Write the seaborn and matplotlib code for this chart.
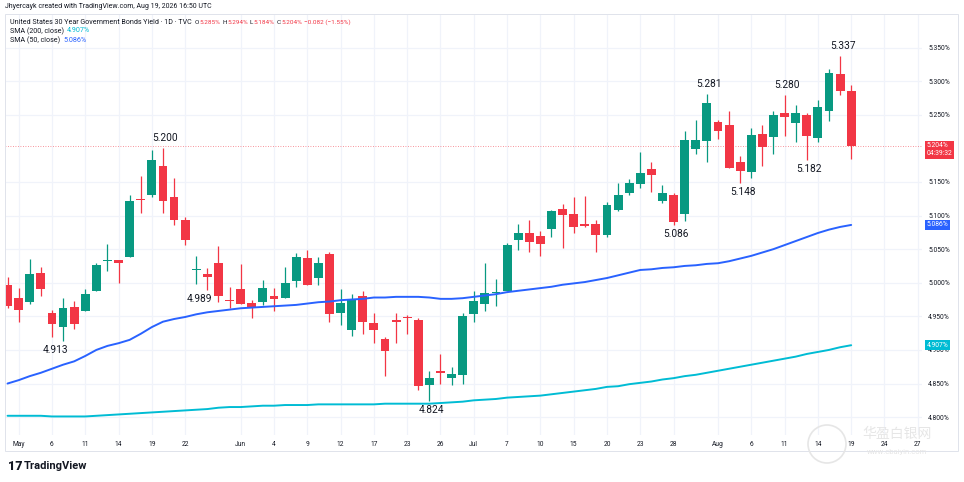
import numpy as np
import pandas as pd
import matplotlib
matplotlib.use('Agg')
import matplotlib.pyplot as plt
import seaborn as sns
from matplotlib.patches import Rectangle, Ellipse

# DADOS DO GRAFICO
tick_pos = [1, 4, 7, 10, 13, 16, 21, 24, 27, 30, 33, 36, 39, 42, 45, 48, 51, 54,
            57, 60, 64, 67, 70, 73, 76, 79, 82]
tick_labels = ['May', '6', '11', '14', '19', '22', 'Jun', '4', '9', '12', '17', '23', '26',
               'Jul', '7', '10', '15', '20', '23', '28', 'Aug', '6', '11', '14', '19', '24', '27']

opens = [4.996, 4.977, 4.971, 5.014, 4.955, 4.934, 4.964, 4.958, 4.988, 5.033,
         5.034, 5.038, 5.124, 5.131, 5.174, 5.128, 5.093, 5.019, 5.013, 5.029,
         4.975, 4.991, 4.970, 4.972, 4.980, 4.978, 5.003, 5.037, 5.007, 5.043,
         4.955, 4.930, 4.980, 4.940, 4.917, 4.944, 4.949, 4.944, 4.848, 4.868,
         4.858, 4.863, 4.953, 4.969, 4.985, 4.987, 5.064, 5.074, 5.070, 5.080,
         5.109, 5.103, 5.087, 5.088, 5.071, 5.108, 5.134, 5.147, 5.169, 5.121,
         5.130, 5.102, 5.199, 5.211, 5.239, 5.235, 5.180, 5.165, 5.222, 5.217,
         5.252, 5.238, 5.250, 5.216, 5.256, 5.310, 5.285]
highs = [5.008, 4.992, 5.036, 5.024, 4.959, 4.977, 4.973, 4.990, 5.030, 5.058,
         5.034, 5.131, 5.159, 5.198, 5.200, 5.156, 5.098, 5.040, 5.022, 5.055,
         4.994, 5.028, 4.975, 5.004, 4.992, 5.024, 5.044, 5.049, 5.039, 5.045,
         4.990, 4.983, 4.987, 4.955, 4.919, 4.955, 4.952, 4.947, 4.868, 4.894,
         4.874, 4.955, 4.988, 5.029, 5.006, 5.059, 5.088, 5.094, 5.077, 5.108,
         5.117, 5.128, 5.129, 5.094, 5.120, 5.149, 5.154, 5.194, 5.180, 5.145,
         5.133, 5.226, 5.242, 5.281, 5.242, 5.256, 5.188, 5.230, 5.234, 5.255,
         5.280, 5.264, 5.252, 5.272, 5.318, 5.337, 5.294]
lows = [4.962, 4.942, 4.969, 4.980, 4.919, 4.913, 4.931, 4.958, 4.988, 5.018,
        4.999, 5.038, 5.104, 5.127, 5.104, 5.086, 5.056, 4.998, 4.989, 4.972,
        4.962, 4.968, 4.948, 4.967, 4.958, 4.977, 4.994, 4.997, 4.997, 4.942,
        4.937, 4.920, 4.924, 4.911, 4.861, 4.911, 4.924, 4.841, 4.824, 4.850,
        4.848, 4.849, 4.942, 4.958, 4.966, 4.987, 5.048, 5.046, 5.040, 5.068,
        5.052, 5.074, 5.083, 5.046, 5.068, 5.106, 5.131, 5.141, 5.135, 5.118,
        5.086, 5.092, 5.192, 5.180, 5.214, 5.170, 5.148, 5.156, 5.173, 5.192,
        5.218, 5.209, 5.182, 5.210, 5.241, 5.280, 5.184]
closes = [4.965, 4.960, 5.013, 4.990, 4.938, 4.962, 4.939, 4.983, 5.026, 5.034,
          5.030, 5.122, 5.123, 5.183, 5.122, 5.093, 5.063, 5.021, 5.008, 4.980,
          4.973, 4.969, 4.963, 4.992, 4.976, 4.999, 5.039, 4.997, 5.029, 4.953,
          4.970, 4.974, 4.941, 4.929, 4.899, 4.942, 4.947, 4.847, 4.858, 4.866,
          4.864, 4.950, 4.973, 4.984, 4.986, 5.056, 5.074, 5.061, 5.058, 5.107,
          5.101, 5.083, 5.085, 5.071, 5.116, 5.131, 5.148, 5.164, 5.161, 5.133,
          5.091, 5.212, 5.212, 5.267, 5.226, 5.171, 5.167, 5.220, 5.202, 5.250,
          5.247, 5.252, 5.218, 5.261, 5.312, 5.286, 5.204]

sma50 = [4.850, 4.855, 4.861, 4.866, 4.872, 4.878, 4.883, 4.891, 4.900, 4.906,
         4.910, 4.915, 4.924, 4.934, 4.942, 4.946, 4.949, 4.953, 4.956, 4.958,
         4.960, 4.962, 4.963, 4.964, 4.965, 4.966, 4.967, 4.969, 4.971, 4.972,
         4.974, 4.975, 4.976, 4.978, 4.978, 4.979, 4.979, 4.979, 4.978, 4.976,
         4.976, 4.977, 4.979, 4.981, 4.983, 4.986, 4.988, 4.990, 4.992, 4.994,
         4.997, 4.999, 5.001, 5.004, 5.007, 5.011, 5.015, 5.019, 5.020, 5.022,
         5.023, 5.025, 5.026, 5.028, 5.029, 5.032, 5.036, 5.040, 5.045, 5.050,
         5.056, 5.062, 5.068, 5.074, 5.079, 5.083, 5.086]
sma200 = [4.802, 4.802, 4.802, 4.802, 4.801, 4.801, 4.801, 4.801, 4.802, 4.803,
          4.804, 4.805, 4.806, 4.807, 4.808, 4.809, 4.810, 4.811, 4.812, 4.814,
          4.815, 4.815, 4.816, 4.817, 4.817, 4.818, 4.818, 4.818, 4.819, 4.819,
          4.819, 4.819, 4.819, 4.819, 4.820, 4.820, 4.820, 4.820, 4.820, 4.821,
          4.822, 4.823, 4.825, 4.826, 4.827, 4.829, 4.830, 4.831, 4.832, 4.834,
          4.836, 4.838, 4.840, 4.842, 4.845, 4.846, 4.849, 4.851, 4.853, 4.856,
          4.858, 4.861, 4.863, 4.866, 4.869, 4.872, 4.875, 4.878, 4.881, 4.884,
          4.887, 4.890, 4.894, 4.897, 4.900, 4.904, 4.907]

price_ticks = [4.80, 4.85, 4.90, 4.95, 5.00, 5.05, 5.10, 5.15, 5.25, 5.30, 5.35]

# candles com rotulo de maxima/minima
marcas_idx = [14, 5, 18, 38, 60, 63, 66, 70, 72, 75]
marcas_tipo = ['high', 'low', 'low', 'low', 'low', 'high', 'low', 'high', 'low', 'high']

# CORES TRADINGVIEW
UP = '#089981'
DOWN = '#F23645'
BLUE = '#2962FF'
CYAN = '#00BCD4'
TXT = '#131722'
GRID = '#F0F3FA'

W, H = 964, 482
FS_HEAD = 5.1

sns.set_theme(style='white')
plt.rcParams['font.family'] = ['Roboto', 'DejaVu Sans']
plt.rcParams['axes.unicode_minus'] = True

df = pd.DataFrame({'i': np.arange(len(opens)), 'open': opens, 'high': highs,
                   'low': lows, 'close': closes, 'sma50': sma50, 'sma200': sma200})
df['cor'] = np.where(df['close'] >= df['open'], UP, DOWN)

fig = plt.figure(figsize=(W / 100, H / 100), dpi=100)
fig.patch.set_facecolor('white')
ax = fig.add_axes([5 / W, 47 / H, 917 / W, 421 / H])

# grade
for t in price_ticks:
    ax.axhline(t, color=GRID, lw=0.9, zorder=0)
for t in tick_pos:
    ax.axvline(t, color=GRID, lw=0.9, zorder=0)

# linha do preco atual
ax.axhline(closes[-1], color=DOWN, lw=0.6, ls=(0, (1, 2)), alpha=0.7, zorder=1)

# CANDLES
ax.vlines(df['i'], df['low'], df['high'], colors=df['cor'], lw=0.9, zorder=3)
corpo = (df['close'] - df['open']).abs().clip(lower=0.0015)
base = df[['open', 'close']].min(axis=1)
ax.bar(df['i'], corpo, bottom=base, width=0.8, color=df['cor'], lw=0, zorder=4)

# medias moveis
sns.lineplot(data=df, x='i', y='sma50', color=BLUE, lw=1.4, ax=ax, zorder=5)
sns.lineplot(data=df, x='i', y='sma200', color=CYAN, lw=1.4, ax=ax, zorder=5)

# rotulos de maxima/minima
for idx, tipo in zip(marcas_idx, marcas_tipo):
    v = df.loc[idx, tipo]
    dx = -8 if idx in (5, 18) else 2.5
    dy = 10 if tipo == 'high' else -9
    ax.annotate(f'{v:.3f}', (idx, v), xytext=(dx, dy), textcoords='offset pixels',
                ha='center', va='center', fontsize=7.3, color=TXT, zorder=6)

ax.set_xlim(-0.23, 82.38)
ax.set_ylim(4.7734, 5.3999)
ax.set_xlabel('')
ax.set_ylabel('')
for s in ax.spines.values():
    s.set_visible(False)

ax.set_xticks(tick_pos)
ax.set_xticklabels(tick_labels)
ax.tick_params(axis='x', length=0, pad=4, labelsize=4.8, labelcolor=TXT)
ax.yaxis.tick_right()
ax.set_yticks(price_ticks)
ax.set_yticklabels([f'{t:.3f}%' for t in price_ticks])
ax.tick_params(axis='y', length=0, pad=4.5, labelsize=4.9, labelcolor=TXT)

# etiquetas de preco no eixo direito
etiquetas = [(closes[-1], f'{closes[-1]:.3f}%\n04:39:32', DOWN, -4),
             (sma50[-1], f'{sma50[-1]:.3f}%', BLUE, 0),
             (sma200[-1], f'{sma200[-1]:.3f}%', CYAN, 0)]
for val, txt, cor, dy in etiquetas:
    ax.annotate(txt, (1, val), xycoords=ax.get_yaxis_transform(), xytext=(5, dy),
                textcoords='offset pixels', ha='left', va='center', fontsize=4.9,
                color='white', linespacing=1.15, zorder=8, annotation_clip=False,
                bbox=dict(boxstyle='square,pad=0.25', fc=cor, ec='none'))

# moldura do painel
fig.add_artist(Rectangle((5 / W, 1 - 451 / H), 953 / W, 437 / H, transform=fig.transFigure,
                         fill=False, ec='#E0E3EB', lw=0.7))

# CABECALHO (textos encadeados lado a lado)
renderer = fig.canvas.get_renderer()

def linha(x, y, partes, fs=FS_HEAD):
    for txt, cor, gap in partes:
        t = fig.text(x / W, 1 - y / H, txt, fontsize=fs, color=cor, va='center')
        x += t.get_window_extent(renderer).width + gap
    return x

var = closes[-1] - closes[-2]
linha(5, 7, [('Jhyercayk created with TradingView.com, Aug 19, 2026 16:50 UTC', TXT, 0)], fs=5.0)
x_ohlc = linha(10, 22, [('United States 30 Year Government Bonds Yield · 1D · TVC', TXT, 2.5)])
linha(x_ohlc, 22, [('O', TXT, 0.4), (f'{opens[-1]:.3f}%', DOWN, 2.2),
                   ('H', TXT, 0.4), (f'{highs[-1]:.3f}%', DOWN, 2.2),
                   ('L', TXT, 0.4), (f'{lows[-1]:.3f}%', DOWN, 2.2),
                   ('C', TXT, 0.4), (f'{closes[-1]:.3f}%', DOWN, 2.2),
                   (f'\u2212{abs(var):.3f} (\u2212{abs(var) / closes[-2] * 100:.2f}%)', DOWN, 0)],
      fs=4.6)
linha(10, 31, [('SMA (200, close)', TXT, 3), (f'{sma200[-1]:.3f}%', CYAN, 0)])
linha(10, 40, [('SMA (50, close)', TXT, 3), (f'{sma50[-1]:.3f}%', BLUE, 0)])

# rodape
fig.text(8 / W, 1 - 466 / H, '17', fontsize=9, fontweight='heavy', color=TXT, va='center')
fig.text(24 / W, 1 - 466 / H, 'TradingView', fontsize=8, fontweight='bold', color=TXT,
         va='center')

# marca d'agua
fig.add_artist(Ellipse((827 / W, 1 - 444 / H), 38 / W, 38 / H, transform=fig.transFigure,
                       fill=False, ec='#E6E6E6', lw=1.2))
fig.text(897 / W, 1 - 434 / H, '华盈白银网', fontsize=10, color='#E6E6E6', ha='center',
         va='center', family=['Noto Sans CJK SC', 'DejaVu Sans'])
fig.text(897 / W, 1 - 452 / H, 'www.cbaiyin.com', fontsize=5.5, color='#E6E6E6',
         ha='center', va='center')

fig.savefig('out.png', dpi=100)
